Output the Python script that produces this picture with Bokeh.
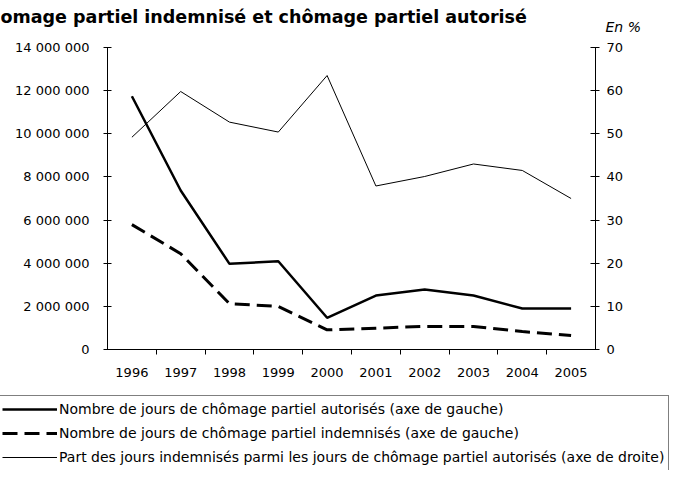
from bokeh.plotting import figure
from bokeh.models import Range1d, LinearAxis, FixedTicker, Legend, LegendItem, Label
from bokeh.embed import file_html
from bokeh.resources import INLINE

years = [1996, 1997, 1998, 1999, 2000, 2001, 2002, 2003, 2004, 2005]
autorises = [11740000, 7370000, 3970000, 4090000, 1470000, 2500000, 2780000, 2500000, 1900000, 1900000]
indemnises = [5790000, 4440000, 2120000, 2000000, 910000, 990000, 1070000, 1070000, 830000, 650000]
part = [49.2, 59.8, 52.7, 50.4, 63.5, 37.9, 40.1, 43.0, 41.5, 35.0]

left_ticks = [0, 2000000, 4000000, 6000000, 8000000, 10000000, 12000000, 14000000]
left_labels = ["0", "2 000 000", "4 000 000", "6 000 000", "8 000 000", "10 000 000", "12 000 000", "14 000 000"]
right_ticks = [0, 10, 20, 30, 40, 50, 60, 70]
year_labels = [str(y) for y in years]

title_text = "omage partiel indemnisé et chômage partiel autorisé"
unit_text = "En %"
legend_labels = [
    "Nombre de jours de chômage partiel autorisés (axe de gauche)",
    "Nombre de jours de chômage partiel indemnisés (axe de gauche)",
    "Part des jours indemnisés parmi les jours de chômage partiel autorisés (axe de droite)",
]

FONT = "DejaVu Sans"
DASH = "15 7"

# page layout (pixels): plot box inside the canvas
W, H = 678, 470
BOX_L, BOX_R, BOX_T, BOX_B = 107, 595, 47, 349
LEG_TOP, LEG_PAD, LEG_ROW, LEG_GAP = 397, 4, 18, 6

x0, x1 = years[0] - 0.5, years[-1] + 0.5
px_x = (BOX_R - BOX_L) / (x1 - x0)
xr = Range1d(x0 - BOX_L / px_x, x1 + (W - BOX_R) / px_x)

def frame_range(lo, hi):
    per = (BOX_B - BOX_T) / (hi - lo)
    return Range1d(lo - (H - BOX_B) / per, hi + BOX_T / per)

p = figure(width=W, height=H, output_backend="svg", toolbar_location=None,
           x_range=xr, y_range=frame_range(left_ticks[0], left_ticks[-1]),
           min_border_left=0, min_border_right=0, min_border_top=0, min_border_bottom=0)
p.outline_line_color = None
p.grid.visible = False
p.background_fill_color = "white"
p.border_fill_color = "white"
p.extra_y_ranges = {"pct": frame_range(right_ticks[0], right_ticks[-1])}

xa = p.xaxis[0]
xa.fixed_location = left_ticks[0]
xa.bounds = (x0, x1)
xa.ticker = FixedTicker(ticks=years, minor_ticks=[y + 0.5 for y in years[:-1]])
xa.major_label_overrides = {float(y): s for y, s in zip(years, year_labels)}
xa.major_tick_line_color = None
xa.major_tick_out = 0
xa.major_tick_in = 0
xa.minor_tick_line_color = "black"
xa.minor_tick_out = 5
xa.minor_tick_in = 0
xa.major_label_standoff = 13
xa.axis_line_color = "black"
xa.major_label_text_font = FONT
xa.major_label_text_font_size = "13px"
xa.major_label_text_color = "black"

ya = p.yaxis[0]
ya.fixed_location = x0
ya.bounds = (left_ticks[0], left_ticks[-1])
ya.ticker = FixedTicker(ticks=left_ticks, minor_ticks=[])
ya.major_label_overrides = {float(t): s for t, s in zip(left_ticks, left_labels)}
ya.major_tick_in = 4
ya.major_tick_out = 4
ya.minor_tick_line_color = None
ya.major_label_standoff = 14
ya.axis_line_color = "black"
ya.major_tick_line_color = "black"
ya.major_label_text_font = FONT
ya.major_label_text_font_size = "13px"
ya.major_label_text_color = "black"

ra = LinearAxis(y_range_name="pct", fixed_location=x1, bounds=(right_ticks[0], right_ticks[-1]),
                ticker=FixedTicker(ticks=right_ticks, minor_ticks=[]))
ra.major_tick_in = 5
ra.major_tick_out = 4
ra.minor_tick_line_color = None
ra.major_label_standoff = 7
ra.axis_line_color = "black"
ra.major_tick_line_color = "black"
ra.major_label_text_font = FONT
ra.major_label_text_font_size = "13px"
ra.major_label_text_color = "black"
p.add_layout(ra, "right")

r1 = p.line(years, autorises, line_color="black", line_width=2.5)
r2 = p.line(years, indemnises, line_color="black", line_width=3, line_dash=DASH)
r3 = p.line(years, part, line_color="black", line_width=1, y_range_name="pct")

leg_h = 2 * LEG_PAD + 3 * LEG_ROW + 2 * LEG_GAP
legend = Legend(items=[LegendItem(label=legend_labels[0], renderers=[r1]),
                       LegendItem(label=legend_labels[1], renderers=[r2]),
                       LegendItem(label=legend_labels[2], renderers=[r3])],
                location=(-3, H - LEG_TOP - leg_h), orientation="vertical",
                glyph_width=55, glyph_height=LEG_ROW, label_height=LEG_ROW, label_standoff=2,
                padding=LEG_PAD, spacing=LEG_GAP, margin=0,
                border_line_color="black", border_line_width=1,
                background_fill_color="white", background_fill_alpha=1,
                label_text_font=FONT, label_text_font_size="14px", label_text_color="black")
p.add_layout(legend)

p.add_layout(Label(x=0, y=H - 16, x_units="screen", y_units="screen", text=title_text,
                   text_font=FONT, text_font_style="bold", text_font_size="17.5px",
                   text_baseline="alphabetic", text_color="black"))
p.add_layout(Label(x=605, y=H - 26, x_units="screen", y_units="screen", text=unit_text,
                   text_font=FONT, text_font_style="italic", text_font_size="14px",
                   text_baseline="alphabetic", text_color="black"))

open("out.html", "w").write(file_html(p, INLINE))
